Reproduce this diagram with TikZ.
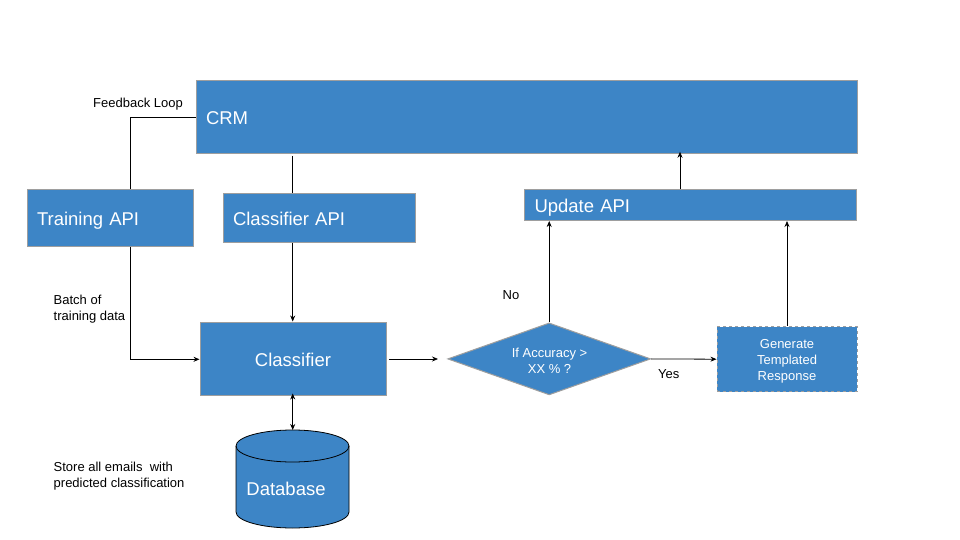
\documentclass[tikz,border=0pt]{standalone}
\usepackage{fontspec}
\setmainfont{Liberation Sans}
\usetikzlibrary{arrows.meta,shapes.geometric}
\definecolor{boxblue}{HTML}{3D85C6}
\definecolor{boxedge}{HTML}{9E9E9E}
\tikzset{
  box/.style={draw=boxedge, line width=1pt, fill=boxblue, text=white, font=\fontsize{18.5}{22}\selectfont, inner ysep=0pt, inner xsep=10pt, align=left, text height=15pt, text depth=0pt},
  cbox/.style={box, align=center},
  small/.style={font=\fontsize{13}{16}\selectfont, align=left, inner sep=0pt},
  conn/.style={draw=black, line width=0.8pt},
  arr/.style={conn, -{Stealth[length=6pt,width=5pt]}},
  darr/.style={conn, {Stealth[length=6pt,width=5pt]}-{Stealth[length=6pt,width=5pt]}}
}
\begin{document}
\begin{tikzpicture}[x=1pt,y=-1pt]
\useasboundingbox[fill=white] (0,0) rectangle (960,540);
% boxes
\node[box, text width=641pt, minimum height=73pt] (crm) at (526.5,116.8) {CRM};
\node[box, text width=146pt, minimum height=57pt] (train) at (110,217.5) {Training API};
\node[box, text width=172pt, minimum height=49pt] (capi) at (319,217.5) {Classifier API};
\node[box, text width=312pt, minimum height=31pt] (upd) at (690.5,205) {Update API};
\node[cbox, text width=166pt, minimum height=73pt] (cls) at (293,358.5) {Classifier};
\node[diamond, aspect=2.82, draw=boxedge, line width=1pt, fill=boxblue, text=white, font=\fontsize{13}{16.5}\selectfont, align=center, inner sep=0pt, minimum width=203pt, minimum height=72pt] (dec) at (549.2,358.9) {};
\node[text=white, font=\fontsize{13}{16.5}\selectfont, align=center, inner sep=0pt] (dectext) at (549.5,361) {If Accuracy >\\XX \% ?};
\node[draw=boxedge, dashed, line width=1pt, fill=boxblue, text=white, font=\fontsize{13}{16}\selectfont, align=center, inner sep=0pt, minimum width=140pt, minimum height=65pt] (gen) at (787,359.2) {};
\node[text=white, font=\fontsize{13}{16}\selectfont, align=center, inner sep=0pt] (gentext) at (787,361.2) {Generate\\Templated\\Response};
% database cylinder
\filldraw[fill=boxblue, draw=black, line width=0.8pt] (236,446) -- (236,512)
  arc[start angle=180, end angle=360, x radius=56.5pt, y radius=16pt] -- (349,446)
  arc[start angle=0, end angle=180, x radius=56.5pt, y radius=16pt] -- cycle;
\draw[black, line width=0.8pt] (236,446) arc[start angle=180, end angle=360, x radius=56.5pt, y radius=16pt];
\coordinate (dbtop) at (292.7,430);
\node[text=white, font=\fontsize{18.5}{22}\selectfont, inner sep=0pt] (db) at (286,489) {Database};
% labels
\node[small, anchor=west] (fb) at (93,104) {Feedback Loop};
\node[small, anchor=north west] (batch) at (53.5,295) {Batch of\\training data};
\node[small, anchor=north west] (store) at (53.5,461.5) {Store all emails\ \ with\\predicted classification};
\node[small, anchor=west] (no) at (502.5,295) {No};
\node[small, anchor=west] (yes) at (658,374.5) {Yes};
% coordinates
\coordinate (fbcorner) at (130.7,117.3);
\coordinate (bcorner) at (130.7,359.3);
\coordinate (clsout) at (389,359);
\coordinate (decin) at (438,359);
% connectors
\draw[conn] (crm.west |- fbcorner) -- (fbcorner) -- (fbcorner |- train.north);
\draw[conn] (292.7,156) -- (292.7,193);
\draw[arr] (capi.south -| 292.7,0) -- (cls.north -| 292.7,0);
\draw[arr] (train.south -| bcorner) -- (bcorner) -- (cls.west |- bcorner);
\draw[arr] (clsout) -- (decin);
\draw[darr] ([yshift=2pt]cls.south -| dbtop) -- (dbtop);
\draw[arr] (dec.north) -- (dec.north |- upd.south);
\draw[arr] (dec.east) -- (gen.west);
\draw[arr] (gen.north) -- (gen.north |- upd.south);
\draw[arr] (upd.north -| 680,0) -- ([yshift=2pt]crm.south -| 680,0);
\end{tikzpicture}
\end{document}
